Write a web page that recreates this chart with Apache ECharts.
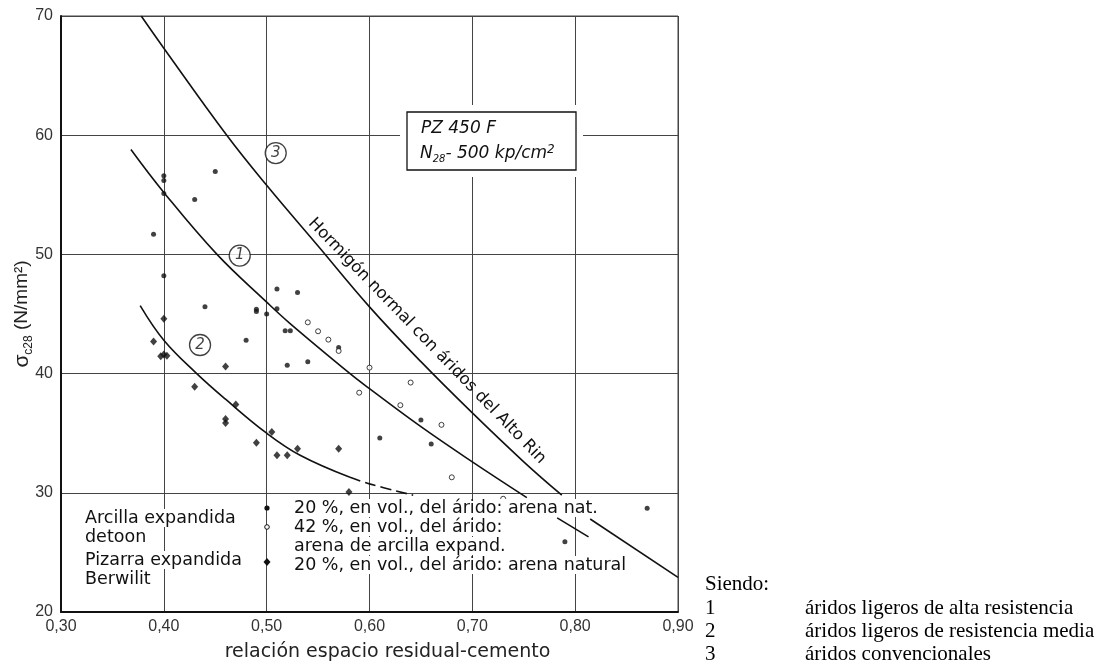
<!DOCTYPE html>
<html><head><meta charset="utf-8">
<script src="https://cdn.jsdelivr.net/npm/echarts@6/dist/echarts.min.js"></script>
<style>html,body{margin:0;padding:0;background:#fff}#c{width:1104px;height:664px}</style>
</head><body><div id="c"></div>
<script>
// Tick labels
const xTickLabels = ['0,30','0,40','0,50','0,60','0,70','0,80','0,90'];
const yTickLabels = ['20','30','40','50','60','70'];

// Arcilla expandida detoon – 20 % en vol. del árido: arena nat. (filled dots)
const arcilla20 = [[0.40,56.6],[0.40,56.2],[0.40,55.1],[0.45,56.95],[0.43,54.6],[0.39,51.7],[0.40,48.2],
  [0.51,47.1],[0.53,46.8],[0.44,45.6],[0.49,45.4],[0.49,45.2],[0.50,45.0],[0.51,45.45],[0.518,43.6],[0.523,43.6],
  [0.48,42.8],[0.52,40.7],[0.54,41.0],[0.57,42.2],[0.61,34.6],[0.65,36.1],[0.66,34.1],[0.87,28.7],[0.79,25.9]];
// Arcilla expandida detoon – 42 % arena de arcilla expand. (open circles)
const arcilla42 = [[0.54,44.3],[0.55,43.55],[0.56,42.85],[0.57,41.9],[0.60,40.5],[0.59,38.4],[0.64,39.25],
  [0.63,37.35],[0.67,35.7],[0.68,31.3],[0.73,29.5]];
// Pizarra expandida Berwilit – 20 % arena natural (diamonds)
const pizarra20 = [[0.40,44.6],[0.39,42.7],[0.397,41.45],[0.40,41.6],[0.403,41.5],[0.46,40.6],[0.43,38.9],
  [0.47,37.4],[0.46,36.2],[0.46,35.85],[0.505,35.1],[0.49,34.2],[0.51,33.15],[0.52,33.15],[0.53,33.7],
  [0.57,33.7],[0.58,30.07]];

// Curves (1: áridos ligeros de alta resistencia, 2: de resistencia media, 3: convencionales)
const curve1A = [[0.368,58.8],[0.40,55.2],[0.4517,50],[0.50,46.0],[0.5228,44.2],[0.5811,40],[0.60,38.74],[0.65,35.55],[0.70,32.6],[0.753,29.6]];
const curve1B = [[0.7825,27.9],[0.813,26.3]];
const curve2 = [[0.377,45.7],[0.40,42.8],[0.432,40],[0.46,37.85],[0.50,35.0],[0.5325,33.15],[0.581,31.3]];
const curve2Dashed = [[0.581,31.3],[0.60,30.75],[0.6425,29.8]];
const curve3A = [[0.378,70],[0.40,67.3],[0.4612,60],[0.50,55.8],[0.55,50.7],[0.60,45.6],[0.65,41.0],[0.70,36.7],[0.75,32.6],[0.787,29.8]];
const curve3B = [[0.8146,27.8],[0.9,22.9]];

// Curve number labels
const curveLabels = [[0.5088,58.5,'3'],[0.4738,49.9,'1'],[0.4352,42.4,'2']];

const chart = echarts.init(document.getElementById('c'));
const SANS = 'DejaVu Sans';
function curve(name, data, dashed){
  return {name, type:'line', data, smooth:0.4, showSymbol:false, symbol:'none',
    lineStyle: {color:'#111', width:1.6, type: dashed ? [11,5] : 'solid'}, z:3, silent:true};
}
const T = (text, x, y, extra) => ({type:'text', x, y, z:100,
  style:Object.assign({text, fill:'#111', font:'17.5px "DejaVu Sans"', align:'left', verticalAlign:'middle',
  backgroundColor:'#fff', padding:[0,2]}, extra||{})});
const S = (text, x, y) => ({type:'text', x, y, style:{text, font:'21px "Liberation Serif"', fill:'#000', verticalAlign:'middle'}});

chart.setOption({
  animation:false,
  backgroundColor:'#fff',
  grid:{left:61, right:426, top:16, bottom:52, show:true, borderColor:'#444', borderWidth:1, outerBoundsMode:'none', containLabel:false},
  xAxis:{type:'value', min:0.3, max:0.9, interval:0.1,
    axisLine:{show:true, lineStyle:{color:'#111', width:2}}, axisTick:{show:false},
    splitLine:{show:true, lineStyle:{color:'#444', width:1}},
    axisLabel:{color:'#333', fontSize:16, fontFamily:'Liberation Sans', margin:7,
      formatter:(v)=>xTickLabels[Math.round((v-0.3)/0.1)]},
    name:'relación espacio residual-cemento', nameLocation:'middle', nameGap:31, nameMoveOverlap:false,
    nameTextStyle:{color:'#222', fontSize:19, fontFamily:SANS, padding:[0,0,0,36]}},
  yAxis:{type:'value', min:20, max:70, interval:10,
    axisLine:{show:true, lineStyle:{color:'#111', width:2}}, axisTick:{show:false},
    splitLine:{show:true, lineStyle:{color:'#444', width:1}},
    axisLabel:{color:'#333', fontSize:16, fontFamily:'Liberation Sans', margin:8,
      formatter:(v)=>yTickLabels[Math.round((v-20)/10)]},
    name:'{s|σ}{sub|c28}{t| (N/mm²)}', nameLocation:'middle', nameGap:26, nameRotate:90, nameMoveOverlap:false,
    nameTextStyle:{color:'#222', rich:{
      s:{fontSize:21, fontFamily:'Liberation Sans', color:'#222', lineHeight:26},
      sub:{fontSize:12, fontFamily:'Liberation Sans', color:'#222', lineHeight:26, verticalAlign:'bottom'},
      t:{fontSize:19, fontFamily:'Liberation Sans', color:'#222', lineHeight:26}}}},
  series:[
    curve('Curva 1', curve1A), curve('Curva 1b', curve1B),
    curve('Curva 2', curve2), curve('Curva 2 (extrapolada)', curve2Dashed, true),
    curve('Curva 3', curve3A), curve('Curva 3b', curve3B),
    {name:'Arcilla expandida 20 %', type:'scatter', data:arcilla20, symbol:'circle', symbolSize:5,
      itemStyle:{color:'#111'}, z:4},
    {name:'Arcilla expandida 42 %', type:'scatter', data:arcilla42, symbol:'circle', symbolSize:5,
      itemStyle:{color:'#fff', borderColor:'#111', borderWidth:1}, z:4},
    {name:'Pizarra expandida 20 %', type:'scatter', data:pizarra20, symbol:'diamond', symbolSize:[7,8],
      itemStyle:{color:'#111'}, z:4},
    {name:'labels', type:'scatter', data:curveLabels.map(d=>[d[0],d[1],d[2]]), symbol:'circle', symbolSize:21,
      itemStyle:{color:'#fff', borderColor:'#111', borderWidth:1.3}, z:5,
      label:{show:true, position:'inside', formatter:(p)=>p.data[2], color:'#111', fontSize:15,
        fontStyle:'italic', fontFamily:SANS}}
  ],
  graphic:[
    // box PZ 450 F
    {type:'rect', shape:{x:400, y:105, width:183, height:72}, style:{fill:'#fff'}, z:90},
    {type:'rect', shape:{x:407, y:112, width:169, height:58}, style:{fill:'#fff', stroke:'#111', lineWidth:1.3}, z:91},
    {type:'text', x:421, y:129, z:92, style:{text:'PZ 450 F', font:'italic 17px "DejaVu Sans"', fill:'#111', verticalAlign:'middle'}},
    {type:'text', x:420, y:154, z:92, style:{text:'{a|N}{b|28}{a|- 500 kp/cm}{c|2}', verticalAlign:'middle',
      rich:{a:{font:'italic 17px "DejaVu Sans"', fill:'#111'}, b:{font:'italic 10px "DejaVu Sans"', fill:'#111', verticalAlign:'bottom', lineHeight:20},
        c:{font:'italic 12px "DejaVu Sans"', fill:'#111', verticalAlign:'top', lineHeight:20}}}},
    // rotated curve-3 label
    {type:'text', x:427, y:341, rotation:-46*Math.PI/180, z:92,
      style:{text:'Hormigón normal con áridos del Alto Rin', font:'16.5px "DejaVu Sans"', fill:'#111', align:'center', verticalAlign:'middle'}},
    // legend inside plot
    T('Arcilla expandida', 83, 518), T('detoon', 83, 537), T('Pizarra expandida', 83, 560), T('Berwilit', 83, 579),
    {type:'circle', shape:{cx:267, cy:508, r:2.6}, style:{fill:'#111'}, z:100},
    {type:'circle', shape:{cx:267, cy:527, r:2.3}, style:{fill:'#fff', stroke:'#111', lineWidth:1}, z:100},
    {type:'polygon', shape:{points:[[267,558],[270.5,562],[267,566],[263.5,562]]}, style:{fill:'#111'}, z:100},
    T('20 %, en vol., del árido: arena nat.', 292, 508), T('42 %, en vol., del árido:', 292, 527),
    T('arena de arcilla expand.', 292, 546), T('20 %, en vol., del árido: arena natural', 292, 565),
    // Siendo block
    S('Siendo:', 705, 584), S('1', 705, 608), S('2', 705, 631), S('3', 705, 654),
    S('áridos ligeros de alta resistencia', 805, 608), S('áridos ligeros de resistencia media', 805, 631),
    S('áridos convencionales', 805, 654)
  ]
});
</script></body></html>
